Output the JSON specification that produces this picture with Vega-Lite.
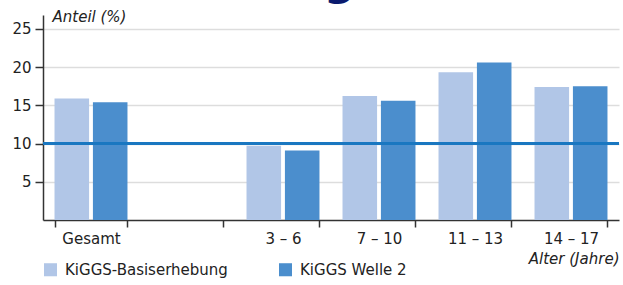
{
  "$schema": "https://vega.github.io/schema/vega-lite/v6.json",
  "width": 576,
  "height": 205,
  "autosize": {"type": "none"},
  "padding": {"left": 43, "top": 15, "right": 4, "bottom": 65},
  "background": "white",
  "config": {
    "font": "DejaVu Sans",
    "view": {"stroke": null}
  },
  "title": {
    "text": "Übergewicht",
    "fontSize": 44,
    "fontWeight": "bold",
    "color": "#0a1a6e",
    "anchor": "start",
    "dx": 193,
    "offset": 0,
    "dy": 30,
    "baseline": "alphabetic"
  },
  "data": {
    "values": [
      {"gruppe": "Gesamt", "studie": "KiGGS-Basiserhebung", "anteil": 15.9},
      {"gruppe": "Gesamt", "studie": "KiGGS Welle 2", "anteil": 15.4},
      {"gruppe": "3 – 6", "studie": "KiGGS-Basiserhebung", "anteil": 9.7},
      {"gruppe": "3 – 6", "studie": "KiGGS Welle 2", "anteil": 9.1},
      {"gruppe": "7 – 10", "studie": "KiGGS-Basiserhebung", "anteil": 16.2},
      {"gruppe": "7 – 10", "studie": "KiGGS Welle 2", "anteil": 15.6},
      {"gruppe": "11 – 13", "studie": "KiGGS-Basiserhebung", "anteil": 19.3},
      {"gruppe": "11 – 13", "studie": "KiGGS Welle 2", "anteil": 20.6},
      {"gruppe": "14 – 17", "studie": "KiGGS-Basiserhebung", "anteil": 17.4},
      {"gruppe": "14 – 17", "studie": "KiGGS Welle 2", "anteil": 17.5}
    ]
  },
  "layer": [
    {
      "mark": {"type": "bar"},
      "encoding": {
        "x": {
          "field": "gruppe",
          "type": "nominal",
          "scale": {"domain": ["Gesamt", " ", "3 – 6", "7 – 10", "11 – 13", "14 – 17"], "paddingInner": 0.24, "paddingOuter": 0.12},
          "axis": {
            "title": "Alter (Jahre)",
            "titleFontStyle": "italic",
            "titleFontWeight": "normal",
            "titleFontSize": 15,
            "titleColor": "#222",
            "titleAnchor": "end",
            "titleAlign": "right",
            "titlePadding": 5,
            "labelAngle": 0,
            "labelFontSize": 15,
            "labelColor": "#222",
            "labelPadding": 4,
            "tickBand": "extent",
            "tickSize": 7,
            "tickColor": "#333",
            "tickWidth": 1.5,
            "domainColor": "#333",
            "domainWidth": 1.5
          }
        },
        "xOffset": {
          "field": "studie",
          "type": "nominal",
          "scale": {"domain": ["KiGGS-Basiserhebung", "KiGGS Welle 2"], "paddingInner": 0.1, "paddingOuter": 0}
        },
        "y": {
          "field": "anteil",
          "type": "quantitative",
          "scale": {"domain": [0, 26.8], "nice": false},
          "axis": {
            "values": [5, 10, 15, 20, 25],
            "title": "Anteil (%)",
            "titleAngle": 0,
            "titleX": 9,
            "titleY": 6,
            "titleAlign": "left",
            "titleBaseline": "alphabetic",
            "titleFontStyle": "italic",
            "titleFontWeight": "normal",
            "titleFontSize": 15,
            "titleColor": "#222",
            "labelFontSize": 15,
            "labelColor": "#222",
            "labelPadding": 4,
            "tickSize": 8,
            "tickColor": "#333",
            "tickWidth": 1.5,
            "domainColor": "#333",
            "domainWidth": 1.5,
            "grid": true,
            "gridColor": "#dddddd",
            "gridWidth": 1.5
          }
        },
        "color": {
          "field": "studie",
          "type": "nominal",
          "scale": {"domain": ["KiGGS-Basiserhebung", "KiGGS Welle 2"], "range": ["#b1c6e7", "#4b8ecd"]},
          "legend": {
            "title": null,
            "orient": "none",
            "legendX": 0,
            "legendY": 247,
            "direction": "horizontal",
            "columns": 2,
            "columnPadding": 50,
            "symbolType": "square",
            "symbolSize": 170,
            "symbolStrokeWidth": 0,
            "labelFontSize": 15,
            "labelColor": "#222",
            "labelOffset": 7,
            "labelLimit": 300
          }
        }
      }
    },
    {
      "mark": {"type": "rule", "color": "#1a77c0", "strokeWidth": 2.5},
      "encoding": {"y": {"datum": 10}}
    }
  ]
}
